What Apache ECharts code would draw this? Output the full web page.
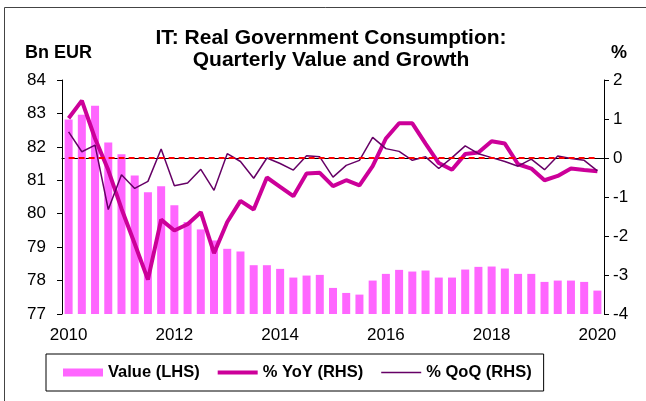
<!DOCTYPE html>
<html>
<head>
<meta charset="utf-8">
<script src="https://cdn.jsdelivr.net/npm/echarts@6/dist/echarts.min.js"></script>
<style>
  html, body { margin: 0; padding: 0; background: #fff; }
  #chart { width: 646px; height: 401px; }
</style>
</head>
<body>
<div id="chart"></div>
<script>
var quarters = [
  '2010Q1','2010Q2','2010Q3','2010Q4','2011Q1','2011Q2','2011Q3','2011Q4',
  '2012Q1','2012Q2','2012Q3','2012Q4','2013Q1','2013Q2','2013Q3','2013Q4',
  '2014Q1','2014Q2','2014Q3','2014Q4','2015Q1','2015Q2','2015Q3','2015Q4',
  '2016Q1','2016Q2','2016Q3','2016Q4','2017Q1','2017Q2','2017Q3','2017Q4',
  '2018Q1','2018Q2','2018Q3','2018Q4','2019Q1','2019Q2','2019Q3','2019Q4',
  '2020Q1'
];

// Bn EUR, left axis
var value = [
  82.82, 82.96, 83.23, 82.13, 81.78, 81.14, 80.64, 80.82,
  80.25, 79.75, 79.53, 79.20, 78.95, 78.87, 78.46, 78.46,
  78.35, 78.09, 78.15, 78.17, 77.78, 77.63, 77.58, 78.00,
  78.20, 78.32, 78.27, 78.30, 78.09, 78.09, 78.33, 78.41,
  78.42, 78.36, 78.20, 78.20, 77.96, 78.00, 78.00, 77.96,
  77.70
];

// % right axis
var yoy = [
  1.02, 1.47, 0.50, -0.31, -1.30, -2.20, -3.12, -1.58,
  -1.86, -1.70, -1.39, -2.44, -1.64, -1.10, -1.32, -0.50,
  -0.74, -0.98, -0.40, -0.38, -0.72, -0.57, -0.70, -0.21,
  0.50, 0.89, 0.89, 0.37, -0.13, -0.30, 0.10, 0.14,
  0.43, 0.37, -0.16, -0.27, -0.57, -0.46, -0.27, -0.31,
  -0.34
];

var qoq = [
  0.67, 0.16, 0.33, -1.32, -0.43, -0.78, -0.60, 0.23,
  -0.71, -0.64, -0.29, -0.83, 0.11, -0.09, -0.52, 0.00,
  -0.14, -0.31, 0.06, 0.03, -0.49, -0.19, -0.06, 0.53,
  0.24, 0.17, -0.06, 0.03, -0.27, 0.01, 0.31, 0.11,
  0.01, -0.09, -0.21, -0.03, -0.30, 0.05, -0.01, -0.06,
  -0.33
];

var font = 'Liberation Sans, Arial, Helvetica, sans-serif';
var mychart = echarts.init(document.getElementById('chart'));

option = {
    backgroundColor: '#ffffff',
    animation: false,
    title: {
        text: 'IT: Real Government Consumption:\nQuarterly Value and Growth',
        left: 326,
        textAlign: 'center',
        top: 22,
        textStyle: {
            fontFamily: font,
            fontSize: 21,
            fontWeight: 'bold',
            lineHeight: 22,
            color: '#000'
        }
    },
    graphic: [
        {
            type: 'rect',
            shape: { x: 4.5, y: 7.5, width: 700, height: 500 },
            style: { fill: 'none', stroke: '#444', lineWidth: 1 },
            silent: true
        },
        {
            type: 'text',
            left: 25,
            top: 44,
            style: { text: 'Bn EUR', font: 'bold 18px ' + font, fill: '#000' }
        },
        {
            type: 'text',
            left: 611,
            top: 44,
            style: { text: '%', font: 'bold 18px ' + font, fill: '#000' }
        }
    ],
    grid: {
        left: 62,
        right: 42,
        top: 80,
        bottom: 87
    },
    legend: {
        left: 46,
        top: 354,
        itemWidth: 40,
        itemHeight: 8,
        itemGap: 18,
        padding: [10, 12, 10, 17],
        borderColor: '#000',
        borderWidth: 1,
        backgroundColor: '#fff',
        textStyle: {
            fontFamily: font,
            fontSize: 16.5,
            fontWeight: 'bold',
            color: '#000'
        },
        data: [
            { name: 'Value (LHS)', icon: 'rect' },
            { name: '% YoY (RHS)', icon: 'path://M0,0 L40,0 L40,4 L0,4 Z' },
            { name: '% QoQ (RHS)', icon: 'path://M0,0 L40,0 L40,1.6 L0,1.6 Z' }
        ]
    },
    xAxis: {
        type: 'category',
        data: quarters,
        boundaryGap: true,
        axisLine: { lineStyle: { color: '#000', width: 1 } },
        axisTick: { interval: 3, length: 5, lineStyle: { color: '#000' } },
        axisLabel: {
            interval: 7,
            margin: 13,
            fontFamily: font,
            fontSize: 17,
            color: '#000',
            formatter: function (v) { return v.slice(0, 4); }
        },
        splitLine: { show: false }
    },
    yAxis: [
        {
            type: 'value',
            min: 77,
            max: 84,
            interval: 1,
            axisLine: { show: true, lineStyle: { color: '#000' } },
            axisTick: { show: true, length: 5, lineStyle: { color: '#000' } },
            axisLabel: { margin: 16, fontFamily: font, fontSize: 17, color: '#000' },
            splitLine: { show: false }
        },
        {
            type: 'value',
            min: -4,
            max: 2,
            interval: 1,
            position: 'right',
            axisLine: { show: true, lineStyle: { color: '#000' } },
            axisTick: { show: true, length: 5, lineStyle: { color: '#000' } },
            axisLabel: { margin: 9, fontFamily: font, fontSize: 17, color: '#000' },
            splitLine: { show: false }
        }
    ],
    series: [
        {
            name: 'Value (LHS)',
            type: 'bar',
            yAxisIndex: 0,
            data: value,
            barWidth: 8,
            itemStyle: { color: '#FF66FF' }
        },
        {
            name: '% YoY (RHS)',
            type: 'line',
            yAxisIndex: 1,
            data: yoy,
            symbol: 'none',
            lineStyle: { color: '#CC0099', width: 4 },
            itemStyle: { color: '#CC0099' },
            z: 3,
            markLine: {
                silent: true,
                symbol: 'none',
                label: { show: false },
                lineStyle: { color: '#FF0000', type: [6, 4], width: 2 },
                data: [[
                    { coord: [quarters[0], 0] },
                    { coord: [quarters[quarters.length - 1], 0] }
                ]]
            }
        },
        {
            name: '% QoQ (RHS)',
            type: 'line',
            yAxisIndex: 1,
            data: qoq,
            symbol: 'none',
            lineStyle: { color: '#660066', width: 1.5 },
            itemStyle: { color: '#660066' },
            z: 4
        }
    ]
};
mychart.setOption(option, true);
</script>
</body>
</html>
